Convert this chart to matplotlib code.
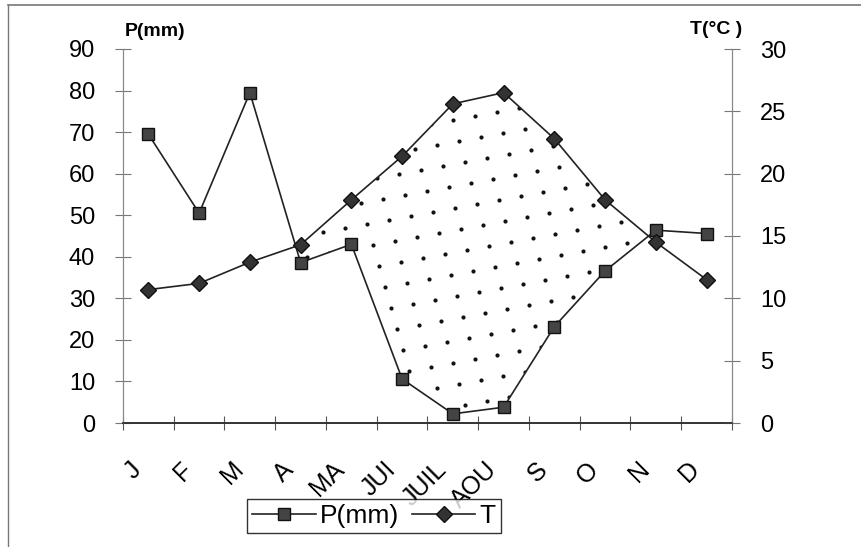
import matplotlib
matplotlib.use("Agg")
import matplotlib.pyplot as plt
from matplotlib.lines import Line2D
from matplotlib.transforms import ScaledTranslation
import numpy as np

plt.rcParams['font.family'] = ['Liberation Sans', 'DejaVu Sans']

months = ['J', 'F', 'M', 'A', 'MA', 'JUI', 'JUIL', 'AOU', 'S', 'O', 'N', 'D']
p_mm = [69.5, 50.5, 79.5, 38.6, 43.0, 10.6, 2.2, 3.8, 23.2, 36.6, 46.4, 45.6]
t_c = [10.7, 11.2, 12.9, 14.3, 17.9, 21.4, 25.6, 26.5, 22.8, 17.9, 14.5, 11.5]

x = np.arange(len(months)) + 0.5
p = np.array(p_mm)
t = np.array(t_c)

fig = plt.figure(figsize=(8.61, 5.47), dpi=100)
ax = fig.add_axes([123 / 861, 124 / 547, 609 / 861, 374 / 547])
ax2 = ax.twinx()

ax.set_xlim(0, 12)
ax.set_ylim(0, 90)
ax2.set_ylim(0, 30)

# dry period: T*3 above P, filled with a sparse dot texture
area = ax.fill_between(x, p, t * 3, where=(t * 3 >= p), interpolate=True,
                       facecolor='none', edgecolor='none', linewidth=0)
ii, jj = np.meshgrid(np.arange(-10, 40), np.arange(-5, 25))
gx = ii * 0.4335 - jj * 0.118
gy = ii * 0.962 + jj * 5.05
dots = ax.scatter(gx.ravel(), gy.ravel(), s=9, color='#111111', linewidths=0)
dots.set_clip_path(area.get_paths()[0], ax.transData)

lp, = ax.plot(x, p, color='#222222', lw=1.2, marker='s', markersize=9,
              markerfacecolor='#444444', markeredgecolor='#111111', label='P(mm)')
lt, = ax2.plot(x, t, color='#222222', lw=1.2, marker='D', markersize=8,
               markerfacecolor='#333333', markeredgecolor='#111111', label='T')

ax.set_yticks(range(0, 91, 10))
ax2.set_yticks(range(0, 31, 5))

ax.set_xticks(range(0, 13))
ax.set_xticklabels([])
ax.set_xticks(x, minor=True)
ax.set_xticklabels(months, minor=True, rotation=45, ha='right', va='top',
                   rotation_mode='anchor', fontsize=18)
ax.tick_params(axis='x', which='minor', length=0, pad=24)
ax.tick_params(axis='x', which='major', direction='inout', length=10,
               color='#555555', width=0.8)
ax.tick_params(axis='y', direction='inout', length=12, color='#777777',
               width=0.8, labelsize=17, pad=14)
ax2.tick_params(axis='y', direction='inout', length=12, color='#777777',
                width=0.8, labelsize=17, pad=14)
shift = ScaledTranslation(-0.19, -0.01, fig.dpi_scale_trans)
for lab in ax.get_xticklabels(minor=True):
    lab.set_transform(lab.get_transform() + shift)

for a in (ax, ax2):
    a.spines['top'].set_visible(False)
    a.spines['left'].set_color('#888888')
    a.spines['right'].set_color('#888888')
    a.spines['bottom'].set_color('#333333')
    a.spines['left'].set_linewidth(0.8)
    a.spines['right'].set_linewidth(0.8)
    a.spines['bottom'].set_linewidth(1.2)

fig.text(125 / 861, 1 - 31 / 547, 'P(mm)', fontsize=14, fontweight='bold',
         ha='left', va='center')
fig.text(742 / 861, 1 - 29 / 547, 'T(°C )', fontsize=14, fontweight='bold',
         ha='right', va='center')

leg = fig.legend(handles=[lp, lt], loc='center', ncol=2,
                 bbox_to_anchor=(374 / 861, 1 - 516 / 547), fontsize=19,
                 frameon=True, fancybox=False, edgecolor='black',
                 handlelength=2.4, handletextpad=0.15, columnspacing=0.5,
                 borderpad=0.2)
leg.get_frame().set_linewidth(1.0)

# chart border
fig.add_artist(Line2D([8 / 861, 8 / 861], [0, 1 - 5 / 547], color='#777777', lw=1))
fig.add_artist(Line2D([8 / 861, 1], [1 - 5 / 547, 1 - 5 / 547], color='#777777', lw=1.2))

fig.savefig('out.png', dpi=100)
